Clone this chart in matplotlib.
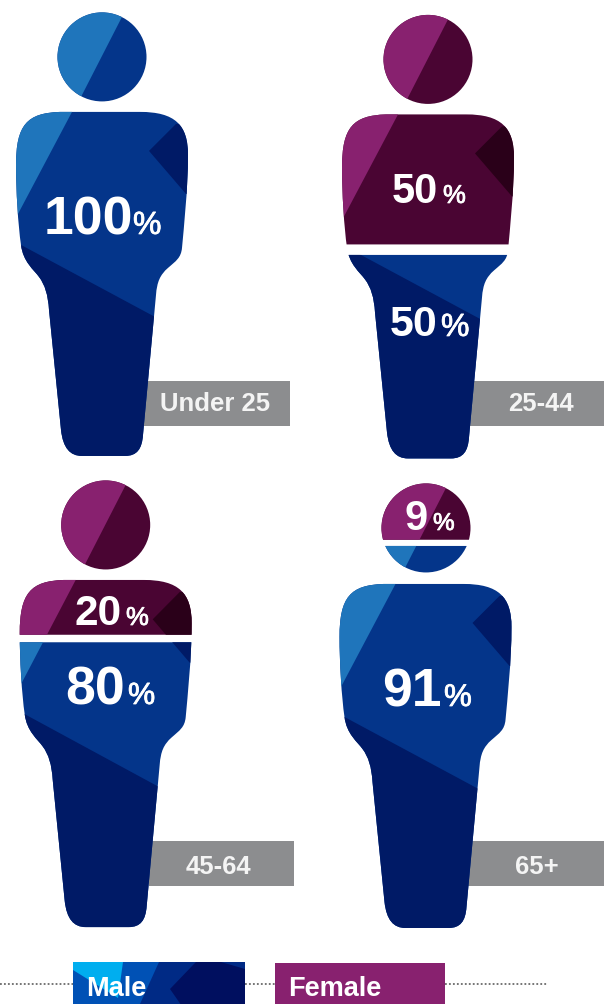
import matplotlib
matplotlib.use("Agg")
import matplotlib.pyplot as plt
import matplotlib.patheffects as pe
from matplotlib.path import Path
from matplotlib.patches import PathPatch, Polygon, Rectangle
from matplotlib.transforms import Bbox

plt.rcParams['font.family'] = ['Liberation Sans', 'DejaVu Sans']

# data
age_groups = ["Under 25", "25-44", "45-64", "65+"]
male_pct = [100, 50, 80, 91]
female_pct = [0, 50, 20, 9]
legend_labels = ["Male", "Female"]

# palettes: light, mid, dark
MALE = ("#1f75bb", "#04358a", "#001a66")
FEMALE = ("#88216f", "#4a0533", "#2a0019")
TAG = "#8c8d8f"

# layout (pixels)
layout = [
    dict(hx=102, hy=57, bx=102, dy=0, sy=1.0, tag=(143, 289.5, 381, 426), tc=(215, 404),
         female_end=None, male_start=None, where=None),
    dict(hx=428, hy=59.5, bx=428, dy=2.5, sy=1.0, tag=(470, 604, 381, 426), tc=(541, 404),
         female_end=244.5, male_start=255, where="body"),
    dict(hx=105.7, hy=525, bx=105.7, dy=468, sy=1.009, tag=(149, 293.5, 841.5, 886.5), tc=(218.5, 867),
         female_end=634.8, male_start=642.3, where="body"),
    dict(hx=426, hy=528, bx=425.5, dy=472, sy=1.0, tag=(468, 604, 841.5, 886.5), tc=(537, 867),
         female_end=539.8, male_start=546, where="head"),
]
# number: x, baseline, size; percent: x, size
male_text = [(44, 234, 38.5, 133, 23), (390, 336, 31, 441, 23), (65, 704, 38.5, 128, 22), (382, 706, 38.5, 444, 22.5)]
female_text = [None, (392, 203, 30, 443, 18.5), (75, 625, 30.5, 126, 18.5), (404, 530, 30, 433, 17.5)]

fig = plt.figure(figsize=(6.04, 10.041), dpi=100)
ax = fig.add_axes([0, 0, 1, 1])
ax.set_xlim(0, 604)
ax.set_ylim(1004, 0)
ax.axis("off")

C3, L, M = Path.CURVE4, Path.LINETO, Path.MOVETO
body_seq = [
    ((60, 112), M),
    ((27, 113), C3), ((16, 125), C3), ((16, 165), C3),
    ((16, 190), C3), ((18, 225), C3), ((21, 245), C3),
    ((23, 262), C3), ((34, 270), C3), ((39, 277), C3),
    ((45, 285), C3), ((48, 295), C3), ((49, 310), C3),
    ((61, 430), L),
    ((63, 448), C3), ((70, 456), C3), ((82, 456), C3),
    ((125, 456), L),
    ((137, 456), C3), ((142, 449), C3), ((143, 435), C3),
    ((156, 295), L),
    ((157, 282), C3), ((160, 275), C3), ((168, 268), C3),
    ((176, 261), C3), ((181, 258), C3), ((182, 248), C3),
    ((184, 225), C3), ((188, 190), C3), ((188, 155), C3),
    ((188, 125), C3), ((175, 112), C3), ((140, 112), C3),
    ((60, 112), L),
    ((60, 112), Path.CLOSEPOLY),
]
body_v = [p for p, _ in body_seq]
body_c = [c for _, c in body_seq]

def region(path, y0, y1):
    poly = path.to_polygons(closed_only=True)[0]
    if y0 is None and y1 is None:
        return Path(poly, closed=True)
    bb = Bbox([[-100, -100 if y0 is None else y0], [800, 1200 if y1 is None else y1]])
    return Path(poly, closed=True).clip_to_bbox(bb)

def fill(poly_or_path, color, clip=None, z=3):
    if isinstance(poly_or_path, Path):
        p = PathPatch(poly_or_path, fc=color, ec="none", zorder=z)
    else:
        p = Polygon(poly_or_path, closed=True, fc=color, ec="none", zorder=z)
    ax.add_patch(p)
    if clip is not None:
        p.set_clip_path(clip, ax.transData)

def draw_body(reg, pal, ox, oy, sy):
    fill(reg, pal[1])
    s = lambda pts: [(x + ox, 112 + (y - 112) * sy + oy) for x, y in pts]
    fill(s([(72, 112), (18, 214), (0, 240), (0, 100), (72, 100)]), pal[0], reg, 4)
    fill(s([(21, 245), (155, 317), (200, 340), (200, 480), (0, 480), (0, 234)]), pal[2], reg, 4)
    fill(s([(176, 124), (149, 151), (186, 194), (210, 194), (210, 124)]), pal[2], reg, 4)

def draw_head(reg, pal, hx, hy):
    fill(reg, pal[1])
    fill([(hx + 20, hy - 40), (hx - 21, hy + 40), (hx - 70, hy + 60), (hx - 70, hy - 60), (hx + 40, hy - 70)],
         pal[0], reg, 4)

for g, m, f, lay, mt, ft in zip(age_groups, male_pct, female_pct, layout, male_text, female_text):
    x0, x1, y0, y1 = lay["tag"]
    ax.add_patch(Rectangle((x0, y0), x1 - x0, y1 - y0, fc=TAG, ec="none", zorder=1))
    ax.text(*lay["tc"], g, color="#f4f4f4", fontsize=18.5, fontweight="bold",
            ha="center", va="center", zorder=6)

    ox, oy, sy = lay["bx"] - 102, lay["dy"], lay["sy"]
    body = Path([(x + ox, 112 + (y - 112) * sy + oy) for x, y in body_v], body_c)
    circ = Path.circle((lay["hx"], lay["hy"]), 44.5)

    if lay["where"] == "body":
        draw_body(region(body, None, lay["female_end"]), FEMALE, ox, oy, sy)
        draw_body(region(body, lay["male_start"], None), MALE, ox, oy, sy)
    else:
        draw_body(region(body, None, None), MALE, ox, oy, sy)

    if lay["where"] == "head":
        draw_head(region(circ, None, lay["female_end"]), FEMALE, lay["hx"], lay["hy"])
        draw_head(region(circ, lay["male_start"], None), MALE, lay["hx"], lay["hy"])
    else:
        draw_head(region(circ, None, None), FEMALE if f >= 20 else MALE, lay["hx"], lay["hy"])

    for val, t in ((m, mt), (f, ft)):
        if t is None:
            continue
        tx, base, size, px, psize = t
        ax.text(tx, base, str(val), color="white", fontsize=size, fontweight="bold",
                va="baseline", ha="left", zorder=7)
        pct = ax.text(px, base, "%", color="white", fontsize=psize, fontweight="normal",
                      va="baseline", ha="left", zorder=7)
        pct.set_path_effects([pe.withStroke(linewidth=0.6, foreground="white")])

# legend
for xa, xb in ((0, 73), (245, 275), (445, 547)):
    ax.plot([xa, xb], [984, 984], color="#6a6a6a", lw=1.3, ls=(0, (1, 1.2)), zorder=1)

box = Path([(73, 962), (245, 962), (245, 1004), (73, 1004), (73, 962)], closed=True)
fill(box, "#002a85")
fill([(73, 1004), (73, 962), (159, 962), (140, 1004)], "#0051b5", box, 4)
fill([(73, 970), (118, 998), (123, 962), (73, 962)], "#00aeef", box, 4)
fill([(194, 964), (170, 989), (186, 1012), (245, 1012), (245, 969), (221, 962), (196, 962)], "#000f5f", box, 4)
ax.add_patch(Rectangle((275, 963), 170, 41, fc="#88216f", ec="none", zorder=3))
ax.text(86, 996, legend_labels[0], color="white", fontsize=19.5, fontweight="bold", va="baseline", zorder=6)
ax.text(288, 996, legend_labels[1], color="white", fontsize=19.5, fontweight="bold", va="baseline", zorder=6)

fig.savefig("out.png", dpi=100)
